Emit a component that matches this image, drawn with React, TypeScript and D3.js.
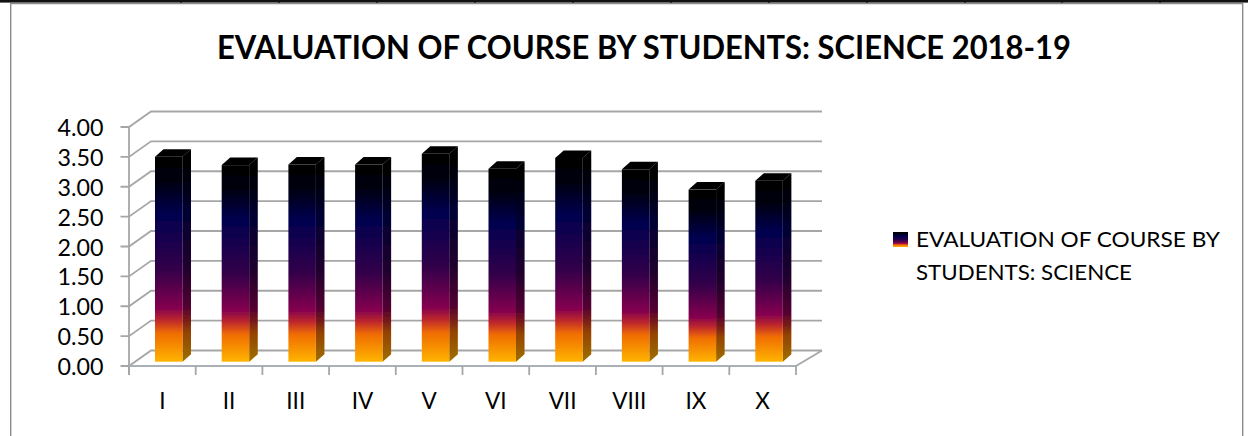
import React from "react";
import * as d3 from "d3";

const title = "EVALUATION OF COURSE BY STUDENTS: SCIENCE 2018-19";
const categories = ["I", "II", "III", "IV", "V", "VI", "VII", "VIII", "IX", "X"];
const scores = [3.43, 3.29, 3.3, 3.3, 3.48, 3.23, 3.41, 3.22, 2.88, 3.03];
const yTicks = [0, 0.5, 1, 1.5, 2, 2.5, 3, 3.5, 4];
const legendLines = ["EVALUATION OF COURSE BY", "STUDENTS: SCIENCE"];
const legendWidths = [304, 216];
const tableRuleXs = [181, 279, 377, 475, 573, 671, 769, 867, 965, 1062, 1160];
const gradientStops: [number, string][] = [
  [0, "#000000"], [0.12, "#00000f"], [0.28, "#000050"], [0.55, "#33004a"],
  [0.74, "#85004f"], [0.8, "#c02a2a"], [0.86, "#ef6c05"], [1, "#ffb400"],
];

const W = 1248, H = 436;
const wallDx = 22, wallDy = -15.5;
const barDepthX = 8.5, barDepthY = -7.5;
const font = "Lato, Carlito, sans-serif";

export default function App() {
  const y = d3.scaleLinear().domain([0, 4]).range([366, 127]);
  const x = d3.scaleBand().domain(categories).range([129, 796]);
  const barW = 27.5;
  const barLeft = (c: string) => (x(c) as number) + 26;
  const barBase = y(0) - 4.3;
  const barH = (v: number) => y(0) - y(v);
  const edges = [...categories.map((c) => x(c) as number), 796];
  const pts = (p: number[][]) => p.map((q) => q.join(",")).join(" ");
  const grid = "#a6a6a6";

  return (
    <svg width={W} height={H} viewBox={`0 0 ${W} ${H}`} style={{ position: "fixed", left: 0, top: 0, background: "#fff" }}>
      <defs>
        <linearGradient id="late" x1="0" y1="0" x2="0" y2="1">
          {gradientStops.map(([o, c]) => <stop key={o} offset={o} stopColor={c} />)}
        </linearGradient>
        <filter id="soft" x="-5%" y="-5%" width="110%" height="110%">
          <feGaussianBlur stdDeviation="0.5" />
        </filter>
      </defs>

      <rect x="0" y="0" width={W} height="2.6" fill="#111" />
      {tableRuleXs.map((t) => <line key={t} x1={t} x2={t} y1="0" y2="3" stroke="#111" strokeWidth="1.2" />)}
      <path d={`M10.7 ${H}V3.6H1242.7V${H}`} fill="none" stroke="#8a8a8a" strokeWidth="1.4" />

      <text x="644" y="59" textAnchor="middle" fontFamily={font} fontWeight="700" fontSize="31.5" textLength="854" lengthAdjust="spacingAndGlyphs" fill="#000">{title}</text>

      <g filter="url(#soft)">
        {yTicks.map((t) => (
          <path key={t} d={`M120.5 ${y(t)}H129L${129 + wallDx} ${y(t) + wallDy}H822`} stroke={grid} strokeWidth="1.8" fill="none" />
        ))}
        <line x1="129" x2="129" y1={y(4)} y2="375" stroke={grid} strokeWidth="1.8" />
        <line x1="129" x2="796" y1={y(0)} y2={y(0)} stroke="#a9b0b8" strokeWidth="2" />
        <line x1="796" x2="822" y1={y(0)} y2={y(0) + wallDy} stroke={grid} strokeWidth="1.8" />
        {edges.map((e) => <line key={e} x1={e} x2={e} y1={y(0)} y2="375" stroke={grid} strokeWidth="1.8" />)}

        {categories.map((c, i) => {
          const l = barLeft(c), r = l + barW, h = barH(scores[i]), top = barBase - h;
          const rb = r + barDepthX;
          const side = pts([[r, top], [rb, top + barDepthY], [rb, barBase + barDepthY], [r, barBase]]);
          return (
            <g key={c}>
              <polygon points={side} fill="url(#late)" />
              <polygon points={side} fill="#000" fillOpacity="0.38" />
              <polygon points={pts([[l, top], [l + barDepthX, top + barDepthY], [rb, top + barDepthY], [r, top]])} fill="#000" />
              <rect x={l} y={top} width={barW} height={h} fill="url(#late)" />
            </g>
          );
        })}
      </g>

      {yTicks.map((t) => (
        <text key={t} x="103.5" y={y(t) + 9} textAnchor="end" fontFamily={font} fontSize="22.5" textLength="46" lengthAdjust="spacingAndGlyphs" fill="#000">{t.toFixed(2)}</text>
      ))}
      {categories.map((c) => (
        <text key={c} x={(x(c) as number) + x.bandwidth() / 2} y="409" textAnchor="middle" fontFamily={font} fontSize="22.5" fill="#000">{c}</text>
      ))}

      <rect x="893" y="232" width="15" height="15" fill="url(#late)" />
      {legendLines.map((s, i) => (
        <text key={s} x="916" y={246.7 + i * 33.3} fontFamily={font} fontSize="21.5" textLength={legendWidths[i]} lengthAdjust="spacingAndGlyphs" fill="#000">{s}</text>
      ))}
    </svg>
  );
}
